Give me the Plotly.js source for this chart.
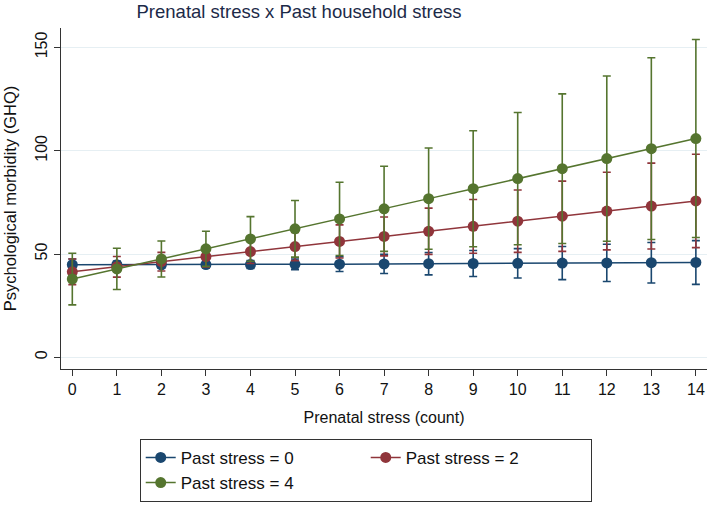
<!DOCTYPE html>
<html>
<head>
<meta charset="utf-8">
<script src="https://cdn.plot.ly/plotly-3.0.1.min.js"></script>
<style>
  html, body { margin: 0; padding: 0; background: #fff; }
  #plot { width: 709px; height: 506px; }
</style>
</head>
<body>
<div id="plot"></div>
<script>
// prenatal stress counts (x axis)
const prenatal = [0, 1, 2, 3, 4, 5, 6, 7, 8, 9, 10, 11, 12, 13, 14];

// predicted GHQ and 95% CI half-widths
const meanPast0 = [44.8, 44.8, 44.8, 44.9, 44.9, 45.0, 45.1, 45.2, 45.3, 45.4, 45.5, 45.6, 45.7, 45.8, 45.9];
const ciPast0   = [2.8, 1.8, 1.6, 1.6, 1.9, 2.6, 3.6, 4.6, 5.4, 6.3, 7.1, 8.0, 9.0, 9.8, 10.6];

const meanPast2 = [41.4, 43.8, 46.3, 48.7, 51.2, 53.6, 56.1, 58.5, 61.0, 63.4, 65.9, 68.3, 70.8, 73.2, 75.7];
const ciPast2   = [6.2, 5.0, 4.5, 5.0, 5.8, 6.8, 8.0, 9.4, 11.2, 13.0, 15.1, 17.0, 18.8, 20.8, 22.6];

const meanPast4 = [37.9, 42.8, 47.6, 52.5, 57.3, 62.2, 67.0, 71.9, 76.8, 81.6, 86.5, 91.3, 96.2, 101.0, 105.9];
const ciPast4   = [12.5, 10.0, 8.7, 8.5, 10.8, 13.7, 17.7, 20.6, 24.5, 28.1, 32.0, 36.2, 40.0, 44.0, 47.9];

const seriesNames = ['Past stress = 0', 'Past stress = 2', 'Past stress = 4'];
const colors = ['#1a476f', '#90353b', '#55752f'];
const yTicks = [0, 50, 100, 150];

const font = '"Liberation Sans", Arial, sans-serif';

function series(name, y, ci, color) {
  return {
    x: prenatal, y: y, name: name,
    type: 'scatter', mode: 'lines+markers',
    line: {color: color, width: 1.5},
    marker: {color: color, size: 11, symbol: 'circle'},
    error_y: {type: 'data', array: ci, visible: true, color: color, thickness: 1.6, width: 4}
  };
}

const traces = [
  series(seriesNames[0], meanPast0, ciPast0, colors[0]),
  series(seriesNames[1], meanPast2, ciPast2, colors[1]),
  series(seriesNames[2], meanPast4, ciPast4, colors[2])
];

const layout = {
  width: 709, height: 506,
  paper_bgcolor: '#fff', plot_bgcolor: '#fff',
  margin: {l: 61, r: 2, t: 28, b: 137},
  font: {family: font, size: 16, color: '#111'},
  title: {
    text: 'Prenatal stress x Past household stress',
    font: {family: font, size: 18.5, color: '#1c2a48'},
    x: 299 / 709, xref: 'container', xanchor: 'center',
    y: 1 - 12 / 506, yref: 'container', yanchor: 'middle'
  },
  xaxis: {
    range: [-0.254, 14.25],
    tickvals: prenatal,
    ticks: 'outside', ticklen: 6, tickcolor: '#333', tickwidth: 1,
    showline: true, linecolor: '#333', linewidth: 1.2,
    showgrid: false, zeroline: false,
    tickfont: {size: 16, color: '#111'},
    title: {text: 'Prenatal stress (count)', font: {size: 16, color: '#111'}, standoff: 14}
  },
  yaxis: {
    range: [-5.66, 159.4],
    tickvals: yTicks,
    tickangle: -90,
    ticks: 'outside', ticklen: 6, tickcolor: '#333', tickwidth: 1,
    showline: true, linecolor: '#333', linewidth: 1.2,
    showgrid: true, gridcolor: '#e6eff3', gridwidth: 1,
    zeroline: false,
    tickfont: {size: 16, color: '#111'},
    title: {text: 'Psychological morbidity (GHQ)', font: {size: 16.5, color: '#111'}, standoff: 12}
  },
  legend: {
    orientation: 'h',
    x: 0.4717, xanchor: 'center',
    y: -0.205, yanchor: 'top',
    bordercolor: '#333', borderwidth: 1,
    bgcolor: '#fff',
    entrywidth: 180, entrywidthmode: 'pixels',
    font: {size: 17, color: '#111'}
  },
  showlegend: true
};

Plotly.newPlot('plot', traces, layout, {displayModeBar: false, staticPlot: true});
</script>
</body>
</html>
